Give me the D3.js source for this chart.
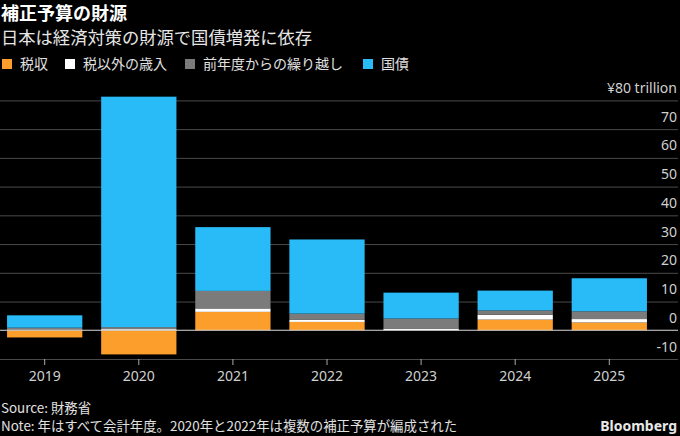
<!DOCTYPE html>
<html><head><meta charset="utf-8">
<script src="https://cdn.jsdelivr.net/npm/d3@7"></script>
<style>
html,body{margin:0;padding:0;background:#000;}
svg{display:block;font-family:"Noto Sans CJK JP","Noto Sans",sans-serif;}
</style></head>
<body><svg id="c" width="680" height="436"></svg>
<script>
const years = ["2019","2020","2021","2022","2023","2024","2025"];
const seriesNames = ["税収","税以外の歳入","前年度からの繰り越し","国債"];
const taxRevenue = [-2.5, -8.4, 6.4, 2.9, 0.0, 3.7, 2.7];
const nonTaxRevenue = [0.0, 0.4, 1.2, 0.7, 0.6, 1.7, 1.2];
const carryover = [0.9, 0.7, 6.1, 2.2, 3.5, 1.5, 2.7];
const bonds = [4.3, 80.2, 22.2, 25.8, 9.0, 6.9, 11.5];
const yTicks = [-10, 0, 10, 20, 30, 40, 50, 60, 70, 80];
const colors = ["#fb9e2b", "#ffffff", "#7b7b7b", "#29bbf8"];

const keys = ["tax","nontax","carry","bonds"];
const rows = years.map((y,i)=>({year:y, tax:taxRevenue[i], nontax:nonTaxRevenue[i], carry:carryover[i], bonds:bonds[i]}));

const svg = d3.select("#c");
const x = d3.scaleBand().domain(years).range([0,654]).paddingInner(0.2).paddingOuter(0.075);
const y = d3.scaleLinear().domain([-10,80]).range([359,100.4]);

// gridlines + labels
const yAxis = d3.axisRight(y).tickValues(yTicks).tickSize(678)
  .tickFormat(d => d===80 ? "¥80 trillion" : String(d));
const gy = svg.append("g").call(yAxis);
gy.select(".domain").remove();
gy.selectAll(".tick line").attr("stroke", d => d===0 ? "none" : "#4a4a4a").attr("stroke-width",1);
gy.selectAll(".tick text").attr("x",677).attr("dy",-8).attr("text-anchor","end")
  .attr("fill","#d0d0d0").style("font-size","14px").style("font-family","'Noto Sans',sans-serif");

// bars
const stack = d3.stack().keys(keys).offset(d3.stackOffsetDiverging);
const layers = stack(rows);
svg.append("g").selectAll("g").data(layers).join("g")
  .attr("fill",(d,i)=>colors[i])
  .selectAll("rect").data(d=>d).join("rect")
  .attr("x", d=>x(d.data.year))
  .attr("width", x.bandwidth())
  .attr("y", d=>y(Math.max(d[0],d[1])))
  .attr("height", d=>Math.abs(y(d[0])-y(d[1])));

// zero line
svg.append("line").attr("x1",0).attr("x2",678).attr("y1",y(0)).attr("y2",y(0))
  .attr("stroke","#d8d8d8").attr("stroke-width",1.2);

// x axis
const gx = svg.append("g").attr("transform",`translate(0,${y(-10)})`)
  .call(d3.axisBottom(x).tickSize(6).tickPadding(6));
gx.select(".domain").remove();
gx.selectAll(".tick line").attr("stroke","#aaa");
gx.selectAll(".tick text").attr("fill","#d0d0d0").style("font-size","14px").style("font-family","'Noto Sans',sans-serif");

// titles
svg.append("text").attr("x",1).attr("y",20).attr("fill","#fff").style("font-size","18px").style("font-weight","bold").text("補正予算の財源");
svg.append("text").attr("x",1).attr("y",44).attr("fill","#e6e6e6").style("font-size","17.3px").text("日本は経済対策の財源で国債増発に依存");

// legend
const legX = [2, 65, 185, 363];
const lg = svg.append("g").selectAll("g").data(seriesNames).join("g")
  .attr("transform",(d,i)=>`translate(${legX[i]},0)`);
lg.append("rect").attr("x",0).attr("y",59).attr("width",10).attr("height",10).attr("fill",(d,i)=>colors[i]);
lg.append("text").attr("x",18).attr("y",69).attr("fill","#e0e0e0").style("font-size","14px").text(d=>d);

// footer
svg.append("text").attr("x",1).attr("y",413).attr("fill","#e0e0e0").style("font-size","13.4px").text("Source: 財務省");
svg.append("text").attr("x",1).attr("y",431).attr("fill","#e0e0e0").style("font-size","13.4px").text("Note: 年はすべて会計年度。2020年と2022年は複数の補正予算が編成された");
svg.append("text").attr("x",677).attr("y",431).attr("text-anchor","end").attr("fill","#e8e8e8").style("font-size","14px").style("font-weight","bold").style("font-family","'Noto Sans',sans-serif").text("Bloomberg");
</script></body></html>
